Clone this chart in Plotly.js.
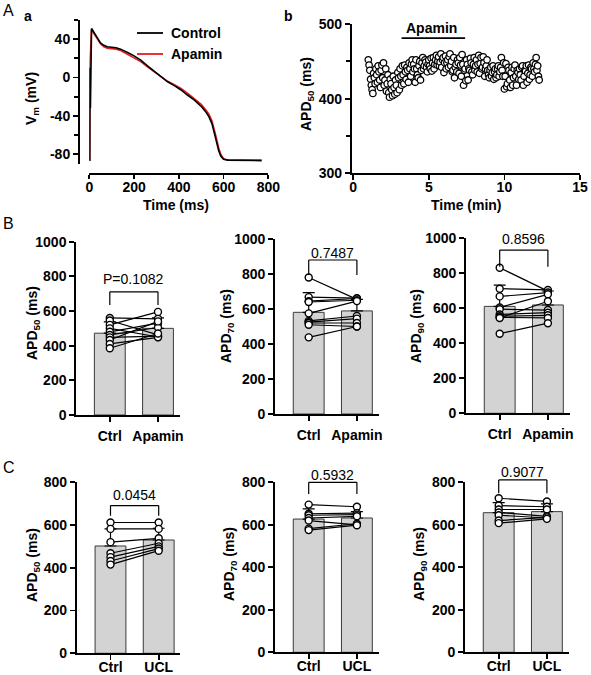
<!DOCTYPE html>
<html><head><meta charset="utf-8">
<script src="https://cdn.plot.ly/plotly-3.0.1.min.js"></script>
<style>html,body{margin:0;padding:0;background:#fff}</style>
</head><body><div id="chart" style="width:591px;height:675px"></div>
<script>
// ================= DATA =================
// Panel A-a: action potential traces
const apTimeCtrl = [0,2,3,5,10,20,35,50,65,80,100,120,140,160,180,200,230,260,290,320,350,380,410,440,470,500,520,535,548,558,568,578,588,600,620,700,770];
const apVmCtrl   = [-86,-86,10,-32,51,47,41,36,33.5,32,31.5,31,29.5,27.5,25,22.5,18,12,6.5,1,-4.5,-8.5,-13,-18.5,-23.5,-30,-35.5,-41,-48,-57,-67,-76,-82,-85,-86,-86.5,-86.5];
const apTimeApa  = [0,2,3,10,20,35,50,65,80,100,120,140,160,180,200,230,260,290,320,350,380,410,440,470,500,520,535,548,558,568,578,588,600,620,700,770];
const apVmApa    = [-86,-86,16,50,46,40,35,32,30.5,30,29.5,28,25.5,23,20.5,16.5,11,6,0.5,-4,-7.5,-11.5,-16.5,-22,-28,-33.5,-38.5,-45,-53,-63,-73,-80,-84.5,-86,-86,-86];
const vmTickVals = [-80,-40,0,40];
const vmTickText = ['-80','-40','0','40'];
const legendNames = ['Control','Apamin'];

// Panel A-b: APD50 time course (min, ms)
const apdTimeMin = [
 1.00,1.05,1.10,1.15,1.20,1.25,1.30,1.35,1.40,1.45,1.50,1.55,1.60,1.65,1.70,1.75,1.80,1.85,1.90,1.95,
 2.00,2.05,2.10,2.15,2.20,2.25,2.30,2.35,2.40,2.45,2.50,2.55,2.60,2.65,2.70,2.75,2.80,2.85,2.90,2.95,
 3.00,3.05,3.10,3.15,3.20,3.25,3.30,3.35,3.40,3.45,3.50,3.55,3.60,3.65,3.70,3.75,3.80,3.85,3.90,3.95,
 4.00,4.05,4.10,4.15,4.20,4.25,4.30,4.35,4.40,4.45,4.50,4.55,4.60,4.65,4.70,4.75,4.80,4.85,4.90,4.95,
 5.00,5.05,5.10,5.15,5.20,5.25,5.30,5.35,5.40,5.45,5.50,5.55,5.60,5.65,5.70,5.75,5.80,5.85,5.90,5.95,
 6.00,6.05,6.10,6.15,6.20,6.25,6.30,6.35,6.40,6.45,6.50,6.55,6.60,6.65,6.70,6.75,6.80,6.85,6.90,6.95,
 7.00,7.05,7.10,7.15,7.20,7.25,7.30,7.35,7.40,7.45,7.50,7.55,7.60,7.65,7.70,7.75,7.80,7.85,7.90,7.95,
 8.00,8.05,8.10,8.15,8.20,8.25,8.30,8.35,8.40,8.45,8.50,8.55,8.60,8.65,8.70,8.75,8.80,8.85,8.90,8.95,
 9.00,9.05,9.10,9.15,9.20,9.25,9.30,9.35,9.40,9.45,9.50,9.55,9.60,9.65,9.70,9.75,9.80,9.85,9.90,9.95,
 10.00,10.05,10.10,10.15,10.20,10.25,10.30,10.35,10.40,10.45,10.50,10.55,10.60,10.65,10.70,10.75,10.80,10.85,10.90,10.95,
 11.00,11.05,11.10,11.15,11.20,11.25,11.30,11.35,11.40,11.45,11.50,11.55,11.60,11.65,11.70,11.75,11.80,11.85,11.90,11.95,
 12.00,12.05,12.10,12.15,12.20,12.25,12.30];
const apd50Series = [
 452,445,438,426,418,412,407,434,428,420,440,432,422,444,436,425,415,438,445,428,
 448,418,425,440,410,420,432,408,402,426,420,412,404,430,415,406,425,418,408,435,
 428,412,440,430,418,444,432,420,445,436,426,442,438,422,448,440,430,446,452,436,
 446,440,422,452,440,432,428,444,450,425,438,448,455,440,444,452,449,442,436,446,
 452,444,440,454,437,448,455,440,446,452,458,445,450,456,444,449,460,442,452,455,
 435,448,457,440,448,452,442,456,460,444,450,436,438,455,428,442,446,436,452,448,
 434,455,445,430,459,446,418,438,440,424,452,446,425,440,438,454,448,436,432,446,
 455,438,444,452,436,446,458,434,447,455,440,442,456,448,430,440,444,452,438,432,
 428,438,442,430,435,444,426,436,440,428,432,440,444,430,436,442,455,438,430,448,
 413,430,447,416,420,442,438,425,415,435,442,418,428,440,445,430,418,438,435,426,
 440,432,425,442,444,418,430,438,437,444,422,434,445,426,432,442,440,430,448,440,
 436,446,455,438,444,430,425];
const apaminPeriod = [3.2, 7.4];
const apaminBarLevel = 481;

// Panel B: Ctrl vs Apamin (APD50, APD70, APD90)
const catsB = ['Ctrl','Apamin'];
const b50Ctrl = [560,545,520,500,480,462,448,433,410,385];
const b50Apa  = [555,462,595,450,530,505,455,540,448,470];
const b70Ctrl = [780,668,645,640,575,532,525,520,510,438];
const b70Apa  = [655,662,660,650,645,560,545,520,500,500];
const b90Ctrl = [832,712,668,605,595,565,555,548,545,455];
const b90Apa  = [698,705,690,680,590,575,560,545,640,515];
const bMeans = [[472,500],[581,589],[611,619]];
const bSD    = [[65,60],[112,66],[122,80]];
const bPText = ['P=0.1082','0.7487','0.8596'];
const bBracketTop = [711,880,933];
const bBracketLeg = [635,794,838];
const bPTextY = [786,922,995];

// Panel C: Ctrl vs UCL
const catsC = ['Ctrl','UCL'];
const c50Ctrl = [612,582,520,468,450,432,415];
const c50Ucl  = [612,582,538,515,500,490,480];
const c70Ctrl = [695,652,645,632,620,582,575];
const c70Ucl  = [685,655,648,640,600,605,598];
const c90Ctrl = [725,690,672,658,645,620,608];
const c90Ucl  = [710,685,672,640,632,635,628];
const cMeans = [[502,530],[627,632],[657,662]];
const cSD    = [[80,55],[48,30],[47,36]];
const cPText = ['0.0454','0.5932','0.9077'];
const cBracketTop = [691,800,811];
const cBracketLeg = [643,745,748];
const cPTextY = [741,834,850];

// ================= LAYOUT HELPERS =================
const W = 591, H = 675;
const fx = px => px / W;
const fy = py => 1 - py / H;
const FAM = 'Liberation Sans, Arial, sans-serif';
const boldFont = (s) => ({family: FAM, size: s, color: '#000', weight: 'bold'});
const regFont = (s) => ({family: FAM, size: s, color: '#000'});
const axBase = {
  showgrid: false, zeroline: false, showline: true, linecolor: '#000', linewidth: 1.8,
  ticks: 'outside', ticklen: 5, tickwidth: 1.8, tickcolor: '#000', tickfont: boldFont(14),
  fixedrange: true
};
const RED = '#e41e20';

const traces = [];
const shapes = [];
const annotations = [];
const layout = {
  width: W, height: H, margin: {l:0, r:0, t:0, b:0}, autosize: false,
  paper_bgcolor: '#fff', plot_bgcolor: 'rgba(0,0,0,0)',
  showlegend: false,
  shapes: shapes, annotations: annotations
};

// ---- Panel A-a ----
layout.xaxis = Object.assign({}, axBase, {
  domain: [fx(89.3), fx(268.3)], range: [0, 800], anchor: 'free', position: fy(173.3),
  dtick: 200, tick0: 0, ticklen: 4, ticklabelstandoff: -4
});
layout.yaxis = Object.assign({}, axBase, {
  domain: [fy(164), fy(19.8)], range: [-90, 60], anchor: 'free', position: fx(78),
  tickmode: 'array', tickvals: vmTickVals, ticktext: vmTickText,
  minor: {tickmode: 'linear', tick0: 0, dtick: 20, ticks: 'outside', ticklen: 4, tickwidth: 1.8, tickcolor: '#000'}
});
traces.push({type: 'scatter', mode: 'lines', name: legendNames[1], x: apTimeApa, y: apVmApa,
  xaxis: 'x', yaxis: 'y', line: {color: RED, width: 1.6}});
traces.push({type: 'scatter', mode: 'lines', name: legendNames[0], x: apTimeCtrl, y: apVmCtrl,
  xaxis: 'x', yaxis: 'y', line: {color: '#000', width: 1.6}});
// manual legend
[[33, '#000', legendNames[0]], [54, RED, legendNames[1]]].forEach(([py, col, txt]) => {
  shapes.push({type: 'line', xref: 'paper', yref: 'paper', x0: fx(137), x1: fx(163), y0: fy(py), y1: fy(py),
    line: {color: col, width: 1.8}});
  annotations.push({xref: 'paper', yref: 'paper', x: fx(169), y: fy(py), text: txt, showarrow: false,
    xanchor: 'left', yanchor: 'middle', font: boldFont(14)});
});

// ---- Panel A-b ----
layout.xaxis2 = Object.assign({}, axBase, {
  domain: [fx(351.7), fx(580)], range: [-0.1, 15], anchor: 'y2', dtick: 5, tick0: 0, ticklabelstandoff: -5
});
layout.yaxis2 = Object.assign({}, axBase, {
  domain: [fy(173.3), fy(24)], range: [300, 500], anchor: 'x2', dtick: 100, tick0: 300,
  minor: {tickmode: 'linear', tick0: 300, dtick: 50, ticks: 'outside', ticklen: 4, tickwidth: 1.8, tickcolor: '#000'}
});
traces.push({type: 'scatter', mode: 'markers', x: apdTimeMin, y: apd50Series, xaxis: 'x2', yaxis: 'y2',
  showlegend: false, cliponaxis: false,
  marker: {symbol: 'circle', size: 6.5, color: '#fff', line: {color: '#000', width: 1.3}}});
shapes.push({type: 'line', xref: 'x2', yref: 'y2', x0: apaminPeriod[0], x1: apaminPeriod[1],
  y0: apaminBarLevel, y1: apaminBarLevel, line: {color: '#000', width: 1.8}});
annotations.push({xref: 'x2', yref: 'y2', x: (apaminPeriod[0] + apaminPeriod[1]) / 2 - 0.1, y: 495,
  text: 'Apamin', showarrow: false, font: boldFont(14), yanchor: 'middle'});

// ---- Bar panels ----
function barPanel(n, c0, yZero, yTop, ymax, cats, means, sd, ctrlPts, trtPts, pText, bTop, bLeg, pY, labelStandoff) {
  const sp = 48.2;
  const xa = 'x' + n, ya = 'y' + n;
  layout['xaxis' + n] = Object.assign({}, axBase, {
    domain: [fx(c0 - 0.70 * sp), fx(c0 + 1.45 * sp)], range: [-0.70, 1.45], anchor: ya,
    tickmode: 'array', tickvals: [0, 1], ticktext: cats, ticklen: 5, ticklabelstandoff: labelStandoff
  });
  layout['yaxis' + n] = Object.assign({}, axBase, {
    domain: [fy(yZero), fy(yTop)], range: [0, ymax], anchor: xa, dtick: 200, tick0: 0
  });
  traces.push({type: 'bar', x: [0, 1], y: means, xaxis: xa, yaxis: ya, width: 0.64, showlegend: false,
    marker: {color: '#d3d3d3', line: {color: '#3a3a3a', width: 1}},
    error_y: {type: 'data', symmetric: false, array: sd, arrayminus: [0, 0], color: '#000', thickness: 1.2, width: 6}});
  const px = [], py = [];
  for (let i = 0; i < ctrlPts.length; i++) { px.push(0, 1, null); py.push(ctrlPts[i], trtPts[i], null); }
  traces.push({type: 'scatter', mode: 'lines+markers', x: px, y: py, xaxis: xa, yaxis: ya, showlegend: false,
    connectgaps: false, cliponaxis: false, line: {color: '#000', width: 1.2},
    marker: {symbol: 'circle', size: 7, color: '#fff', line: {color: '#000', width: 1.4}}});
  const yd = ya + ' domain';
  const lt = {color: '#000', width: 1.2};
  shapes.push({type: 'line', xref: xa, yref: yd, x0: 0, x1: 0, y0: bLeg / ymax, y1: bTop / ymax, line: lt});
  shapes.push({type: 'line', xref: xa, yref: yd, x0: 1, x1: 1, y0: bLeg / ymax, y1: bTop / ymax, line: lt});
  shapes.push({type: 'line', xref: xa, yref: yd, x0: 0, x1: 1, y0: bTop / ymax, y1: bTop / ymax, line: lt});
  annotations.push({xref: xa, yref: yd, x: 0.5, y: pY / ymax, text: pText, showarrow: false,
    font: regFont(14), yanchor: 'middle'});
}

barPanel(3, 109.8, 415, 241.7, 1000, catsB, bMeans[0], bSD[0], b50Ctrl, b50Apa, bPText[0], bBracketTop[0], bBracketLeg[0], bPTextY[0], 2);
barPanel(4, 308.7, 414, 239, 1000, catsB, bMeans[1], bSD[1], b70Ctrl, b70Apa, bPText[1], bBracketTop[1], bBracketLeg[1], bPTextY[1], 2);
barPanel(5, 499.7, 413.3, 238.3, 1000, catsB, bMeans[2], bSD[2], b90Ctrl, b90Apa, bPText[2], bBracketTop[2], bBracketLeg[2], bPTextY[2], 2);
barPanel(6, 110.5, 653.3, 482.3, 800, catsC, cMeans[0], cSD[0], c50Ctrl, c50Ucl, cPText[0], cBracketTop[0], cBracketLeg[0], cPTextY[0], -5);
barPanel(7, 308.7, 652.3, 482.3, 800, catsC, cMeans[1], cSD[1], c70Ctrl, c70Ucl, cPText[1], cBracketTop[1], cBracketLeg[1], cPTextY[1], -5);
barPanel(8, 498.7, 652.3, 482.3, 800, catsC, cMeans[2], cSD[2], c90Ctrl, c90Ucl, cPText[2], cBracketTop[2], cBracketLeg[2], cPTextY[2], -5);

// ---- Titles & panel letters ----
function pAnn(x, y, text, font, angle) {
  annotations.push({xref: 'paper', yref: 'paper', x: fx(x), y: fy(y), text: text, showarrow: false,
    font: font, textangle: angle || 0, xanchor: 'center', yanchor: 'middle'});
}
pAnn(176, 205, 'Time (ms)', boldFont(14));
pAnn(466, 205, 'Time (min)', boldFont(14));
pAnn(32, 99, 'V<sub>m</sub> (mV)', boldFont(14), -90);
pAnn(307, 94, 'APD<sub>50</sub> (ms)', boldFont(14), -90);
pAnn(33, 323, 'APD<sub>50</sub> (ms)', boldFont(14), -90);
pAnn(227, 326, 'APD<sub>70</sub> (ms)', boldFont(14), -90);
pAnn(417, 326, 'APD<sub>90</sub> (ms)', boldFont(14), -90);
pAnn(33, 565, 'APD<sub>50</sub> (ms)', boldFont(14), -90);
pAnn(230, 564, 'APD<sub>70</sub> (ms)', boldFont(14), -90);
pAnn(420, 564, 'APD<sub>90</sub> (ms)', boldFont(14), -90);
pAnn(8, 11, 'A', regFont(16));
pAnn(28, 16, 'a', boldFont(14));
pAnn(288, 16, 'b', boldFont(14));
pAnn(8, 223, 'B', regFont(16));
pAnn(9, 467, 'C', regFont(16));

Plotly.newPlot('chart', traces, layout, {displayModeBar: false, staticPlot: true});
</script>
</body></html>
